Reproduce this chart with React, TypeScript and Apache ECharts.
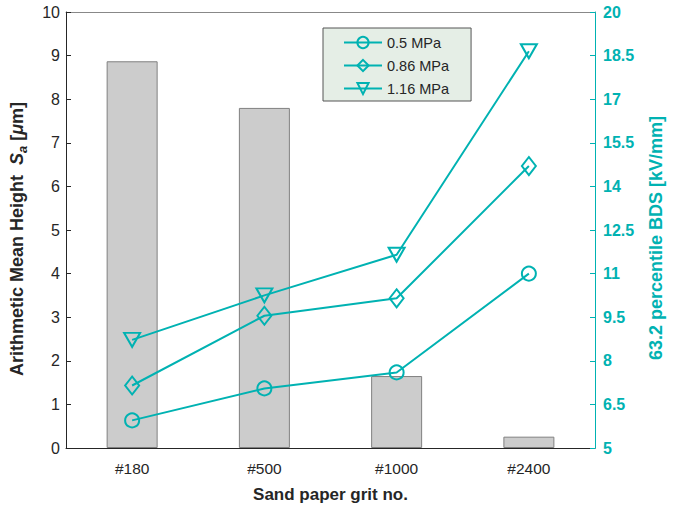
import React, { useEffect, useRef } from "react";
import * as echarts from "echarts";

const categories = ["#180", "#500", "#1000", "#2400"];
const barValues = [8.87, 7.8, 1.65, 0.26];
const p05 = [5.95, 7.05, 7.6, 11.0];
const p086 = [7.15, 9.55, 10.15, 14.7];
const p116 = [8.72, 10.25, 11.65, 18.65];
const seriesNames = ["0.5 MPa", "0.86 MPa", "1.16 MPa"];

const TEAL = "#00b2b2";
const DARK = "#262626";
const FONT = "Liberation Sans, Arial, sans-serif";

export default function App() {
  const ref = useRef<HTMLDivElement>(null);
  useEffect(() => {
    document.body.style.margin = "0";
    const chart = echarts.init(ref.current!, null, { renderer: "svg" });
    const lineSeries = (name: string, data: number[], symbol: string, size: any, rotate = 0) => ({
      name,
      type: "line",
      yAxisIndex: 1,
      data,
      symbol,
      symbolSize: size,
      symbolRotate: rotate,
      showAllSymbol: true,
      color: TEAL,
      lineStyle: { color: TEAL, width: 2 },
      itemStyle: { color: "rgba(255,255,255,0)", borderColor: TEAL, borderWidth: 2 },
      z: 5,
    });
    chart.setOption({
      animation: false,
      textStyle: { fontFamily: FONT },
      grid: { left: 65, right: 67, top: 12, bottom: 57 },
      legend: {
        data: seriesNames,
        orient: "vertical",
        left: 323,
        top: 28,
        itemWidth: 38,
        itemHeight: 14,
        itemGap: 8,
        padding: [7, 22, 5, 20],
        backgroundColor: "#e5eee6",
        borderColor: "#555",
        borderWidth: 1,
        borderRadius: 0,
        textStyle: { color: DARK, fontSize: 14.5, fontFamily: FONT },
      },
      xAxis: [
        {
          type: "category",
          data: categories,
          position: "bottom",
          name: "Sand paper grit no.",
          nameLocation: "middle",
          nameGap: 38,
          nameTextStyle: { fontSize: 17, fontWeight: "bold", color: DARK, fontFamily: FONT },
          axisLine: { lineStyle: { color: DARK, width: 1 } },
          axisTick: { inside: true, alignWithLabel: true, length: 5, lineStyle: { color: DARK } },
          axisLabel: { fontSize: 15.5, color: DARK, margin: 12, fontFamily: FONT },
        },
        {
          type: "category",
          data: categories,
          position: "top",
          axisLine: { lineStyle: { color: "#888", width: 1 } },
          axisTick: { inside: true, alignWithLabel: true, length: 5, lineStyle: { color: DARK } },
          axisLabel: { show: false },
        },
      ],
      yAxis: [
        {
          type: "value",
          min: 0,
          max: 10,
          interval: 1,
          position: "left",
          name: "{t|Arithmetic Mean Height  }{s|S}{sub|a}{t| [}{mu|μ}{t|m]}",
          nameLocation: "middle",
          nameRotate: 90,
          nameGap: 37,
          nameTextStyle: {
            color: DARK,
            padding: [0, 18, 0, 0],
            rich: {
              t: { fontSize: 18, fontWeight: "bold", fontFamily: FONT, color: DARK, lineHeight: 24 },
              s: { fontSize: 18, fontWeight: "bold", fontStyle: "italic", fontFamily: FONT, color: DARK, lineHeight: 24 },
              sub: { fontSize: 13, fontWeight: "bold", fontStyle: "italic", fontFamily: FONT, color: DARK, lineHeight: 24, verticalAlign: "bottom" },
              mu: { fontSize: 18, fontWeight: "bold", fontStyle: "italic", fontFamily: FONT, color: DARK, lineHeight: 24 },
            },
          },
          axisLine: { show: true, lineStyle: { color: DARK, width: 1 } },
          axisTick: { show: true, inside: true, length: 5, lineStyle: { color: DARK } },
          axisLabel: { fontSize: 16, color: DARK, margin: 6, fontFamily: FONT },
          splitLine: { show: false },
        },
        {
          type: "value",
          min: 5,
          max: 20,
          interval: 1.5,
          position: "right",
          name: "63.2 percentile BDS [kV/mm]",
          nameLocation: "middle",
          nameRotate: 90,
          nameGap: 52,
          nameTextStyle: { fontSize: 18, fontWeight: "bold", color: TEAL, fontFamily: FONT, padding: [0, 16, 0, 0] },
          axisLine: { show: true, lineStyle: { color: TEAL, width: 1 } },
          axisTick: { show: true, inside: true, length: 5, lineStyle: { color: TEAL } },
          axisLabel: { fontSize: 16, color: TEAL, fontWeight: "bold", margin: 8, fontFamily: FONT },
          splitLine: { show: false },
        },
      ],
      series: [
        {
          name: "Sa",
          type: "bar",
          data: barValues,
          barWidth: 51,
          itemStyle: { color: "#cccccc", borderColor: "#808080", borderWidth: 1 },
          z: 2,
        },
        lineSeries(seriesNames[0], p05, "circle", 14),
        lineSeries(seriesNames[1], p086, "diamond", [14, 18]),
        lineSeries(seriesNames[2], p116, "triangle", [16, 14], 180),
      ],
    });
    return () => chart.dispose();
  }, []);
  return <div ref={ref} style={{ width: 673, height: 508 }} />;
}
